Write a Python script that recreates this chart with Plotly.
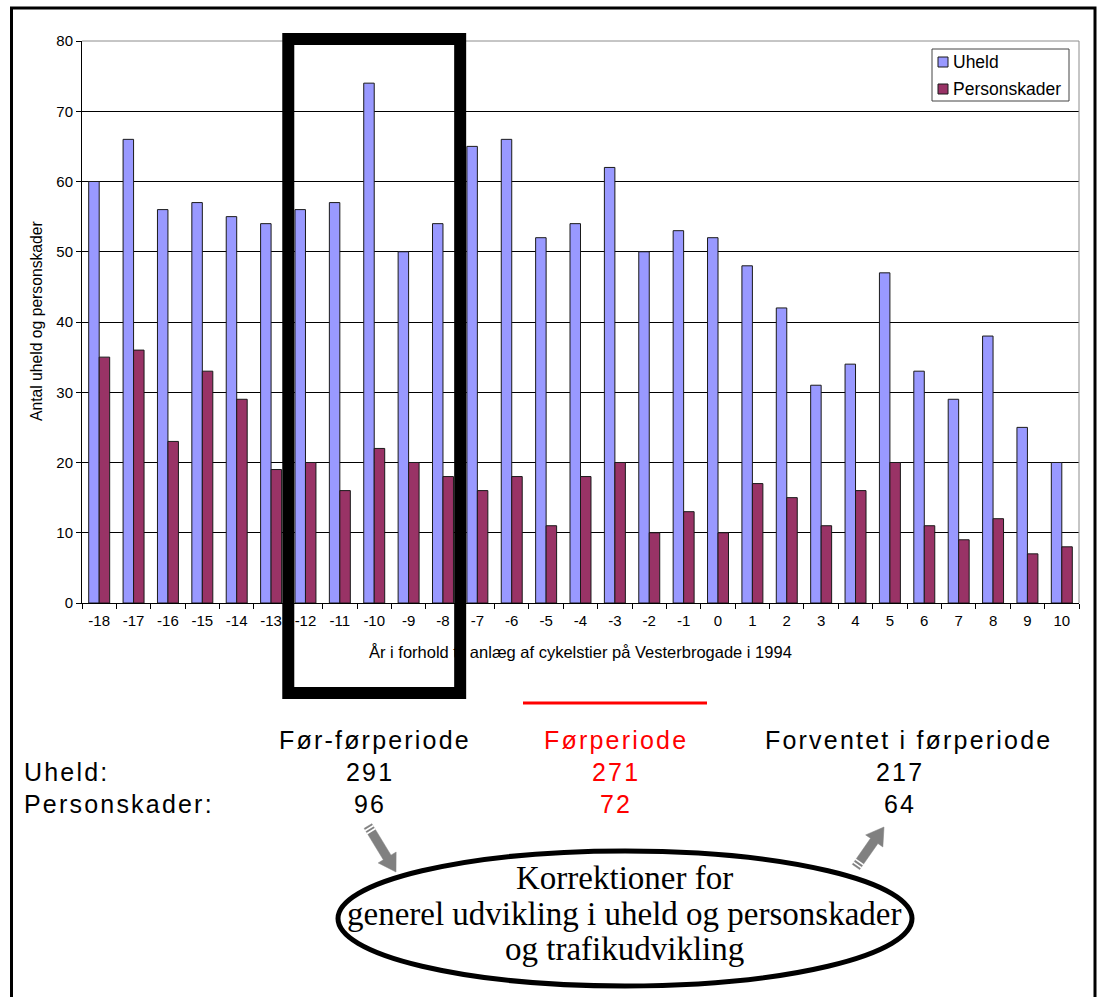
import numpy as np
import plotly.graph_objects as go

# Accidents and injuries per year relative to the 1994 cycle track construction
years = list(range(-18, 11))
year_labels = [str(y) for y in years]
uheld = [60, 66, 56, 57, 55, 54, 56, 57, 74, 50, 54, 65, 66, 52, 54,
         62, 50, 53, 52, 48, 42, 31, 34, 47, 33, 29, 38, 25, 20]
personskader = [35, 36, 23, 33, 29, 19, 20, 16, 22, 20, 18, 16, 18, 11, 18,
                20, 10, 13, 10, 17, 15, 11, 16, 20, 11, 9, 12, 7, 8]
series_names = ["Uheld", "Personskader"]
series_colors = ["#9999FF", "#993366"]

# Periods used in the before/after comparison
period_names = ["Før-førperiode", "Førperiode", "Forventet i førperiode"]
before_before_span = (-12, -8)
before_span = (-5, -1)
expected_uheld = 217
expected_personskader = 64

row_names = ["Uheld:", "Personskader:"]
y_tick_values = [0, 10, 20, 30, 40, 50, 60, 70, 80]


def period_sum(values, span):
    return sum(v for yr, v in zip(years, values) if span[0] <= yr <= span[1])


uheld_totals = [period_sum(uheld, before_before_span),
                period_sum(uheld, before_span),
                expected_uheld]
skader_totals = [period_sum(personskader, before_before_span),
                 period_sum(personskader, before_span),
                 expected_personskader]

W, H = 1100, 997
SANS = "Liberation Sans, Arial, sans-serif"
SERIF = "Liberation Serif, Times New Roman, serif"


def px(x):
    return x / W


def py(y):
    return 1 - y / H


def spaced(text, sp=2.2):
    return f'<span style="letter-spacing:{sp}px">{text}</span>'


# Plot area in pixels
PL, PR, PT, PB = 82, 1079, 41, 603

fig = go.Figure()
for name, vals, col in zip(series_names, [uheld, personskader], series_colors):
    fig.add_trace(go.Bar(x=year_labels, y=vals, name=name,
                         marker=dict(color=col, line=dict(color="#1a1a1a", width=1))))

shapes = []

# gray frame of plot area (top and right)
shapes.append(dict(type="line", xref="paper", yref="paper",
                   x0=px(PL), x1=px(PR), y0=py(PT), y1=py(PT),
                   line=dict(color="#8c8c8c", width=1)))
shapes.append(dict(type="line", xref="paper", yref="paper",
                   x0=px(PR), x1=px(PR), y0=py(PT), y1=py(PB),
                   line=dict(color="#8c8c8c", width=1)))

# legend box
LX0, LX1, LY0, LY1 = 932, 1069, 49, 101
shapes.append(dict(type="rect", xref="paper", yref="paper",
                   x0=px(LX0), x1=px(LX1), y0=py(LY1), y1=py(LY0),
                   fillcolor="white", line=dict(color="#444444", width=1)))
legend_rows = [62, 89]
for ly, col in zip(legend_rows, series_colors):
    shapes.append(dict(type="rect", xref="paper", yref="paper",
                       x0=px(938), x1=px(948), y0=py(ly + 5), y1=py(ly - 5),
                       fillcolor=col, line=dict(color="#1a1a1a", width=1)))

# thick box around the before-before period
i0 = years.index(before_before_span[0]) - 0.5
i1 = years.index(before_before_span[1]) + 0.5
shapes.append(dict(type="rect", xref="x", yref="paper",
                   x0=i0, x1=i1, y0=py(693), y1=py(39),
                   line=dict(color="black", width=12)))

# red underline for the before period
shapes.append(dict(type="line", xref="paper", yref="paper",
                   x0=px(523), x1=px(707), y0=py(703), y1=py(703),
                   line=dict(color="#ff0000", width=3)))

# ellipse around the correction note
shapes.append(dict(type="circle", xref="paper", yref="paper",
                   x0=px(338), x1=px(912), y0=py(986), y1=py(851),
                   line=dict(color="black", width=5)))

# outer frame
shapes.append(dict(type="rect", xref="paper", yref="paper",
                   x0=px(11.5), x1=px(1095), y0=py(1010), y1=py(8),
                   line=dict(color="black", width=3)))


def arrow(tail, tip, shaft_w=9, head_w=21, head_len=17):
    t = np.array(tail, dtype=float)
    h = np.array(tip, dtype=float)
    d = h - t
    u = d / np.linalg.norm(d)
    n = np.array([-u[1], u[0]])
    base = h - u * head_len
    pts = [t + n * shaft_w / 2, base + n * shaft_w / 2, base + n * head_w / 2, h,
           base - n * head_w / 2, base - n * shaft_w / 2, t - n * shaft_w / 2]
    path = "M " + " L ".join(f"{px(p[0]):.5f},{py(p[1]):.5f}" for p in pts) + " Z"
    out = [dict(type="path", xref="paper", yref="paper", path=path,
                fillcolor="#808080", line=dict(color="#808080", width=0.5))]
    for k in (2.5, 6.0):
        c = t + u * k
        a = c + n * (shaft_w / 2 + 0.5)
        b = c - n * (shaft_w / 2 + 0.5)
        out.append(dict(type="line", xref="paper", yref="paper",
                        x0=px(a[0]), y0=py(a[1]), x1=px(b[0]), y1=py(b[1]),
                        line=dict(color="white", width=1.6)))
    return out


shapes += arrow((368, 826), (396, 872))
shapes += arrow((856, 867), (884, 827))

annotations = []
# legend labels
for ly, name in zip(legend_rows, series_names):
    annotations.append(dict(text=name, x=px(951), y=py(ly), xref="paper", yref="paper",
                            showarrow=False, xanchor="left", yanchor="middle",
                            font=dict(family=SANS, size=17.5, color="black")))

# axis titles
annotations.append(dict(text="Antal uheld og personskader", x=px(36), y=py(321),
                        xref="paper", yref="paper", textangle=-90, showarrow=False,
                        xanchor="center", yanchor="middle",
                        font=dict(family=SANS, size=15.7, color="black")))
annotations.append(dict(text="År i forhold til anlæg af cykelstier på Vesterbrogade i 1994",
                        x=px((PL + PR) / 2), y=py(652), xref="paper", yref="paper",
                        showarrow=False, xanchor="center", yanchor="middle",
                        font=dict(family=SANS, size=16.5, color="black")))

# comparison table
header_x = [375, 616, 908]
value_x = [370, 616, 900]
col_colors = ["black", "#ff0000", "black"]
TS = 25
for name, xc, col in zip(period_names, header_x, col_colors):
    annotations.append(dict(text=spaced(name), x=px(xc), y=py(740), xref="paper", yref="paper",
                            showarrow=False, xanchor="center", yanchor="middle",
                            font=dict(family=SANS, size=TS, color=col)))
for row_y, row_name, vals in zip([772, 804], row_names, [uheld_totals, skader_totals]):
    annotations.append(dict(text=spaced(row_name), x=px(22), y=py(row_y), xref="paper",
                            yref="paper", showarrow=False, xanchor="left", yanchor="middle",
                            font=dict(family=SANS, size=TS, color="black")))
    for v, xc, col in zip(vals, value_x, col_colors):
        annotations.append(dict(text=spaced(str(v)), x=px(xc), y=py(row_y), xref="paper",
                                yref="paper", showarrow=False, xanchor="center",
                                yanchor="middle",
                                font=dict(family=SANS, size=TS, color=col)))

# correction note in the ellipse
note_lines = ["Korrektioner for",
              "generel udvikling i uheld og personskader",
              "og trafikudvikling"]
for line, ly in zip(note_lines, [878, 914, 949]):
    annotations.append(dict(text=line, x=px(624), y=py(ly), xref="paper", yref="paper",
                            showarrow=False, xanchor="center", yanchor="middle",
                            font=dict(family=SERIF, size=33, color="black")))

fig.update_layout(
    width=W, height=H,
    margin=dict(l=0, r=0, t=0, b=0),
    paper_bgcolor="white", plot_bgcolor="white",
    barmode="group", bargap=0.39, bargroupgap=0.0,
    showlegend=False,
    xaxis=dict(domain=[px(PL), px(PR)], type="category", range=[-0.5, len(years) - 0.5],
               tickson="boundaries", ticks="outside", ticklen=5, tickcolor="black",
               ticklabelstandoff=4,
               showline=True, linecolor="black", linewidth=1, showgrid=False,
               tickfont=dict(family=SANS, size=15, color="black"), automargin=False,
               fixedrange=True),
    yaxis=dict(domain=[py(PB), py(PT)], range=[0, 80], tickvals=y_tick_values,
               ticks="outside", ticklen=5, tickcolor="black",
               showline=True, linecolor="black", linewidth=1,
               showgrid=True, gridcolor="black", gridwidth=1, zeroline=False,
               tickfont=dict(family=SANS, size=15, color="black"), automargin=False,
               fixedrange=True),
    shapes=shapes,
    annotations=annotations,
    hovermode=False,
)

fig.write_html("out.html")
